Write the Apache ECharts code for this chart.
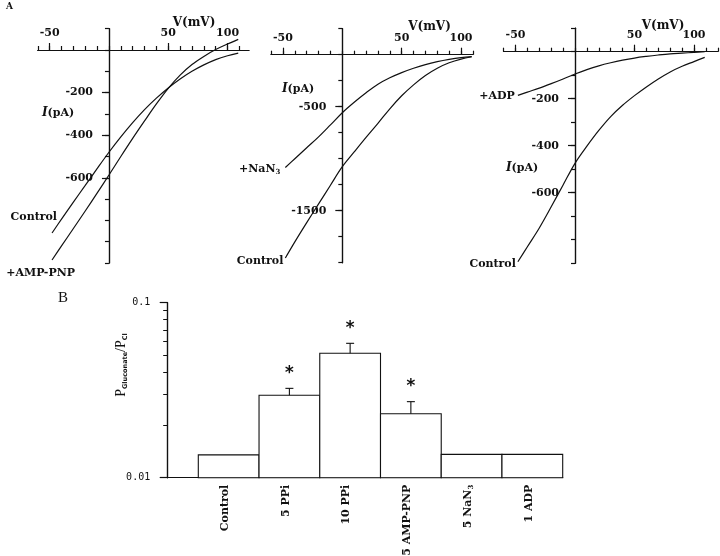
<!DOCTYPE html>
<html><head><meta charset="utf-8">
<script src="https://cdn.jsdelivr.net/npm/echarts@6/dist/echarts.min.js"></script>
<style>html,body{margin:0;padding:0;background:#fff}#c{width:720px;height:556px}</style>
</head><body><div id="c"></div>
<script>
// ---------- Panel A data: membrane voltage (mV) vs current (pA) ----------
const vSteps    = [-48,-40,-30,-20,-10,0,10,20,30,40,50,60,70,80,90,100,109];
const a1Control = [-859,-794,-714,-636,-557,-480,-408,-341,-280,-226,-178,-136,-100,-70,-45,-27,-15];
const a1AmpPnp  = [-986,-920,-838,-756,-672,-587,-500,-415,-333,-253,-180,-118,-68,-30,2,28,50];
const a2Control = [-1955,-1800,-1615,-1435,-1255,-1077,-935,-795,-660,-520,-395,-290,-200,-130,-78,-42,-20];
const a2NaN3    = [-1085,-1000,-895,-790,-675,-558,-458,-366,-284,-222,-172,-130,-95,-67,-45,-28,-18];
const a3Control = [-894,-830,-750,-660,-567,-475,-402,-335,-276,-228,-187,-150,-116,-86,-62,-42,-24];
const a3Adp     = [-186,-172,-155,-136,-116,-95,-76,-60,-47,-36,-27,-20,-14,-9,-6,-3,0];

// tick values / labels for panel A
const xTickMinor = [-60,-50,-40,-30,-20,-10,0,10,20,30,40,50,60,70,80,90,100,110,120];
const xTickMajor = [-50,50,100];
const xTickLabels = [-50,50,100];
const a1YTicks = [-1000,-900,-800,-700,-600,-500,-400,-300,-200,-100,0,100];
const a1YLabels = [-600,-400,-200];
const a2YTicks = [-2000,-1750,-1500,-1250,-1000,-750,-500,-250,0,250];
const a2YLabels = [-1500,-500];
const a3YTicks = [-900,-800,-700,-600,-500,-400,-300,-200,-100,0,100];
const a3YLabels = [-600,-400,-200];

// ---------- Panel B data ----------
const bCategories = ['Control','5 PPi','10 PPi','5 AMP-PNP','5 NaN3','1 ADP'];
const bValues     = [0.0135,0.0296,0.0514,0.0232,0.0136,0.0136];
const bErrTop     = [null,0.0324,0.0586,0.0272,null,null];
const bSignificant= [false,true,true,true,false,false];
const bYLabels    = [0.01,0.1];
const bYTicks     = [0.02,0.03,0.04,0.05,0.06,0.07,0.08,0.09];

// ---------- layout / style ----------
const INK = '#111';
const fontA = '"DejaVu Serif"';
const panels = [
  {left:37.8, width:211.1, top:28.7, height:234.3, xMax:118, yMin:-1000, yMax:100, yTicks:a1YTicks, yLabels:a1YLabels},
  {left:271.1, width:201.8, top:28.7, height:234.0, xMax:110, yMin:-2000, yMax:250, yTicks:a2YTicks, yLabels:a2YLabels},
  {left:503.6, width:214.2, top:28.2, height:235.0, xMax:120, yMin:-900, yMax:100, yTicks:a3YTicks, yLabels:a3YLabels}
];
const curves = [
  {panel:0, vals:a1Control, name:'Control',  label:{position:'left', distance:0, offset:[5,-16]}},
  {panel:0, vals:a1AmpPnp,  name:'+AMP-PNP', label:{position:'left', distance:0, offset:[23,13]}},
  {panel:1, vals:a2NaN3,    name:'+NaN{s|3}', label:{position:'left', distance:5, offset:[0,1.5]}},
  {panel:1, vals:a2Control, name:'Control',  label:{position:'left', distance:2, offset:[0,3.5]}},
  {panel:2, vals:a3Adp,     name:'+ADP',     label:{position:'left', distance:3, offset:[0,1]}},
  {panel:2, vals:a3Control, name:'Control',  label:{position:'left', distance:2, offset:[0,2]}}
];
const lineStyle = {color:INK, width:1.2};
const labelFont = {fontFamily:fontA, fontWeight:'bold', fontSize:11, color:INK};
const subRich = {s:{fontFamily:fontA, fontWeight:'bold', fontSize:7, padding:[7,0,0,0], color:INK}};
const plain = v => String(v);

const grids = [], xAxes = [], yAxes = [], series = [];
panels.forEach((p, k) => {
  grids.push({left:p.left, top:p.top, width:p.width, height:p.height, outerBoundsMode:'none', containLabel:false});
  const xm = xTickMinor.filter(v => v <= p.xMax);
  // labels of an on-zero axis stay at the grid edge; pull them back next to the zero lines
  const zeroFromTop = p.height * p.yMax / (p.yMax - p.yMin);
  const zeroFromLeft = p.width * 60 / (p.xMax + 60);
  xAxes.push({type:'value', gridIndex:k, position:'top', min:-60, max:p.xMax,
    axisLine:{onZero:true, lineStyle:{color:INK, width:1.2}},
    axisTick:{show:true, length:7, customValues:xTickMajor, lineStyle:{color:INK, width:1.2}},
    axisLabel:{customValues:xTickLabels, margin:11.5 - zeroFromTop, formatter:plain, ...labelFont},
    splitLine:{show:false}});
  xAxes.push({type:'value', gridIndex:k, position:'top', min:-60, max:p.xMax,
    axisLine:{onZero:true, lineStyle:{color:INK, width:1.2}},
    axisTick:{show:true, length:4, customValues:xm, lineStyle:{color:INK, width:1.2}},
    axisLabel:{show:false}, splitLine:{show:false}});
  yAxes.push({type:'value', gridIndex:k, position:'left', min:p.yMin, max:p.yMax,
    axisLine:{onZero:true, lineStyle:{color:INK, width:1.2}},
    axisTick:{show:true, length:7, customValues:p.yLabels, lineStyle:{color:INK, width:1.2}},
    axisLabel:{customValues:p.yLabels, margin:16 - zeroFromLeft, formatter:plain, ...labelFont},
    splitLine:{show:false}});
  yAxes.push({type:'value', gridIndex:k, position:'left', min:p.yMin, max:p.yMax,
    axisLine:{onZero:true, lineStyle:{color:INK, width:1.2}},
    axisTick:{show:true, length:4, customValues:p.yTicks, lineStyle:{color:INK, width:1.2}},
    axisLabel:{show:false}, splitLine:{show:false}});
});
curves.forEach(c => {
  const data = c.vals.map((v, i) => {
    const item = {value:[vSteps[i], v]};
    if (i === 0) item.label = Object.assign({show:true, formatter:c.name, ...labelFont, rich:subRich}, c.label);
    return item;
  });
  series.push({type:'line', xAxisIndex:c.panel*2, yAxisIndex:c.panel*2, data,
    smooth:0.35, showSymbol:true, symbol:'circle', symbolSize:0, lineStyle,
    label:{show:false}, silent:true, animation:false, clip:false});
});

// ---------- Panel B: frame (log axis ticks) + bars ----------
const bTop = 302.7, bHeight = 175;
grids.push({left:167.7, top:bTop, width:395, height:bHeight, outerBoundsMode:'none', containLabel:false});   // 3: frame
grids.push({left:198.3, top:bTop, width:364.4, height:bHeight, outerBoundsMode:'none', containLabel:false}); // 4: bars
xAxes.push({type:'value', gridIndex:3, position:'bottom', min:0, max:1,
  axisLine:{onZero:false, lineStyle:{color:INK, width:1.2}}, axisTick:{show:false}, axisLabel:{show:false}, splitLine:{show:false}});
yAxes.push({type:'value', gridIndex:3, position:'left', min:-2, max:-1,
  axisLine:{onZero:false, lineStyle:{color:INK, width:1.2}},
  axisTick:{show:true, length:4.5, customValues:bYTicks.map(Math.log10), lineStyle:{color:INK, width:1}},
  axisLabel:{show:false}, splitLine:{show:false}});
yAxes.push({type:'value', gridIndex:3, position:'left', min:-2, max:-1,
  axisLine:{onZero:false, lineStyle:{color:INK, width:1.2}},
  axisTick:{show:true, length:8, customValues:bYLabels.map(Math.log10), lineStyle:{color:INK, width:1.2}},
  axisLabel:{customValues:bYLabels.map(Math.log10), margin:17.5, fontFamily:'"DejaVu Sans Mono"', fontSize:10, color:INK,
    formatter:v => String(+Math.pow(10, v).toPrecision(3))},
  splitLine:{show:false}});
xAxes.push({type:'category', gridIndex:4, data:bCategories, boundaryGap:true,
  axisLine:{show:false}, axisTick:{show:false},
  axisLabel:{rotate:90, margin:7, interval:0, ...labelFont, padding:[0,0,7,0],
    formatter:v => v.replace('NaN3','NaN{s|3}'), rich:subRich}});
yAxes.push({type:'log', gridIndex:4, logBase:10, min:bYLabels[0], max:bYLabels[1], show:false});
const barXIdx = xAxes.length - 1, barYIdx = yAxes.length - 1;
series.push({type:'custom', xAxisIndex:barXIdx, yAxisIndex:barYIdx, silent:true, animation:false, clip:false,
  data:bCategories.map((c, i) => [i, bValues[i], bErrTop[i] == null ? bValues[i] : bErrTop[i], bSignificant[i] ? 1 : 0]),
  renderItem:(params, api) => {
    const i = api.value(0), v = api.value(1), t = api.value(2), sig = api.value(3);
    const base = api.coord([i, bYLabels[0]]), b = api.coord([i, v]), e = api.coord([i, t]);
    const w = api.size([1, 0])[0];
    const children = [{type:'rect', shape:{x:b[0] - w/2, y:b[1], width:w, height:base[1] - b[1]},
      style:{fill:'#fff', stroke:INK, lineWidth:1.1}}];
    if (t > v) {
      children.push({type:'line', shape:{x1:b[0], y1:b[1], x2:e[0], y2:e[1]}, style:{stroke:INK, lineWidth:1.1}});
      children.push({type:'line', shape:{x1:e[0]-4, y1:e[1], x2:e[0]+4, y2:e[1]}, style:{stroke:INK, lineWidth:1.1}});
    }
    if (sig) children.push({type:'text', x:e[0], y:e[1]-15,
      style:{text:'*', textAlign:'center', textVerticalAlign:'middle', font:'bold 17px "DejaVu Sans Mono"', fill:INK}});
    return {type:'group', children};
  }});

// ---------- texts ----------
const axisNameFont = 'bold 12px "DejaVu Serif"';
const graphic = [
  {type:'text', x:6, y:2, style:{text:'A', font:'bold 9px "DejaVu Serif"', fill:INK}},
  {type:'text', x:58, y:291, style:{text:'B', font:'15px "Liberation Serif"', fill:INK}},
  {type:'text', x:121, y:365, rotation:Math.PI/2,
    style:{text:'{p|P}{s|Gluconate}{p|/P}{s|Cl}', textAlign:'center', textVerticalAlign:'middle', fill:INK,
      rich:{p:{fontFamily:'"Liberation Serif"', fontSize:14, color:INK},
            s:{fontFamily:'"DejaVu Sans"', fontWeight:'bold', fontSize:6.5, padding:[8,0,0,0], color:INK}}}}
];
[[194,22.5],[429.5,27],[663,26]].forEach(([x,y]) => graphic.push({type:'text', x, y,
  style:{text:'V(mV)', font:axisNameFont, textAlign:'center', textVerticalAlign:'middle', fill:INK}}));
[[58,113],[298,89],[522,168]].forEach(([x,y]) => graphic.push({type:'text', x, y,
  style:{text:'{i|I}(pA)', font:'bold 11px "DejaVu Serif"', textAlign:'center', textVerticalAlign:'middle', fill:INK,
    rich:{i:{fontFamily:'"DejaVu Serif"', fontStyle:'italic', fontWeight:'bold', fontSize:12, color:INK}}}}));

const chart = echarts.init(document.getElementById('c'), null, {renderer:'canvas'});
chart.setOption({backgroundColor:'#fff', animation:false, grid:grids, xAxis:xAxes, yAxis:yAxes, series, graphic});
</script></body></html>
